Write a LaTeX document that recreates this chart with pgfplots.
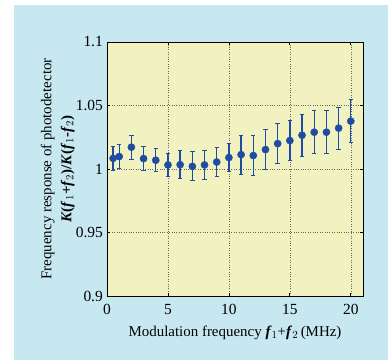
\documentclass[border=0pt]{standalone}
\usepackage{pgfplots}
\pgfplotsset{compat=1.18}
\usepackage{fontspec}
\setmainfont{Liberation Serif}
\definecolor{bgblue}{HTML}{C7E8F0}
\definecolor{plotbg}{HTML}{F2F2C0}
\definecolor{dotblue}{HTML}{1F4CA3}
\pgfplotstableread{
x y e
0.5 1.0084 0.0092
1 1.0098 0.0094
2 1.0172 0.0094
3 1.0082 0.0092
4 1.0069 0.0091
5 1.0032 0.0092
6 1.0034 0.0112
7 1.0021 0.0113
8 1.0032 0.0113
9 1.0055 0.0113
10 1.0090 0.0113
11 1.0113 0.0154
12 1.0106 0.0154
13 1.0153 0.0156
14 1.0200 0.0157
15 1.0224 0.0157
16 1.0266 0.0166
17 1.0290 0.0169
18 1.0290 0.0168
19 1.0322 0.0166
20 1.0377 0.0168
}\datatable
\begin{document}
\fontsize{15}{17}\selectfont
\begin{tikzpicture}
\useasboundingbox (0,0) rectangle (388bp,-360bp);
\fill[white] (0,0) rectangle (388bp,-360bp);
\fill[bgblue] (14bp,-5bp) rectangle (388bp,-360bp);
\begin{axis}[
  at={(107bp,-296bp)}, anchor=south west,
  scale only axis, width=256bp, height=254bp,
  xmin=0, xmax=21, ymin=0.9, ymax=1.1,
  xtick={0,5,10,15,20}, ytick={0.9,0.95,1,1.05,1.1},
  yticklabels={0.9,0.95,1,1.05,1.1},
  xticklabels={0,5,10,15,20},
  tick align=inside, major tick length=3bp,
  tick style={black, line width=0.8pt},
  axis line style={black, line width=0.9pt},
  axis background/.style={fill=plotbg},
  grid=major, major grid style={dotted, gray!80!black, line width=0.6pt},
  tick label style={font=\fontsize{15.5}{17}\selectfont},
  xticklabel style={yshift=-3bp},
  yticklabel style={xshift=1bp},
  xlabel={Modulation frequency \textit{\textbf{f}}$_1$+\textit{\textbf{f}}$_2$\,(MHz)},
  xlabel style={font=\fontsize{15}{17}\selectfont, yshift=-1bp},
  ylabel={\begin{tabular}{c}Frequency response of photodetector\\[2bp] \textbf{\textit{K}(\textit{f}$_1$+\textit{f}$_2$)/\textit{K}(\textit{f}$_1$-\textit{f}$_2$)}\end{tabular}},
  ylabel style={font=\fontsize{15}{18}\selectfont, yshift=-11bp},
]
\addplot[only marks, mark=*, mark size=3.6bp, color=dotblue, mark options={fill=dotblue, draw=dotblue},
  error bars/.cd, y dir=both, y explicit,
  error bar style={line width=1.3pt, color=dotblue},
  error mark options={rotate=90, mark size=2.2bp, line width=1pt, color=dotblue}]
  table[x=x, y=y, y error=e] {\datatable};
\end{axis}
\end{tikzpicture}
\end{document}
